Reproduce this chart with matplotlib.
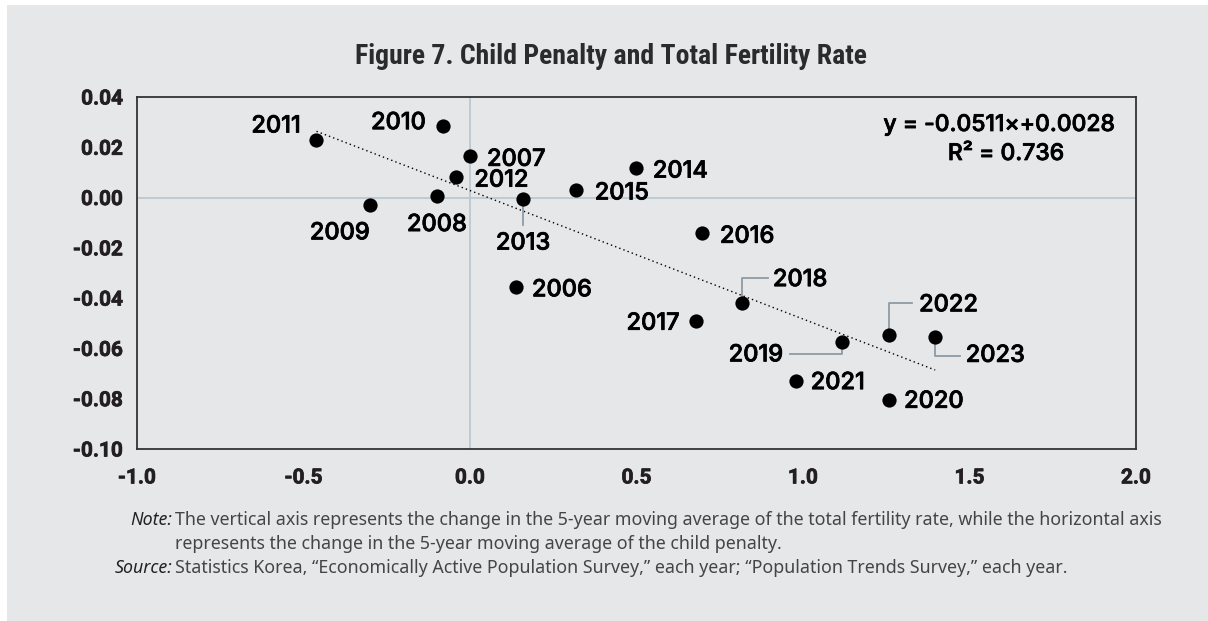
import matplotlib
matplotlib.use("Agg")
import matplotlib.pyplot as plt
from matplotlib import font_manager as fm
import matplotlib.patheffects as pe
import numpy as np

# ---------------- data ----------------
years = ["2006", "2007", "2008", "2009", "2010", "2011", "2012", "2013", "2014",
         "2015", "2016", "2017", "2018", "2019", "2020", "2021", "2022", "2023"]
child_penalty_change = [0.138, 0.000, -0.100, -0.300, -0.081, -0.461, -0.041, 0.159, 0.498,
                        0.319, 0.698, 0.678, 0.818, 1.118, 1.257, 0.978, 1.257, 1.397]
tfr_change = [-0.0355, 0.0166, 0.0006, -0.0029, 0.0286, 0.0229, 0.0080, -0.0004, 0.0116,
              0.0029, -0.0142, -0.0489, -0.0419, -0.0574, -0.0805, -0.0728, -0.0548, -0.0556]
fit_slope = -0.0511
fit_intercept = 0.0028
r_squared = 0.736
x_ticks = [-1.0, -0.5, 0.0, 0.5, 1.0, 1.5, 2.0]
y_ticks = [-0.10, -0.08, -0.06, -0.04, -0.02, 0.00, 0.02, 0.04]

title = "Figure 7. Child Penalty and Total Fertility Rate"
note_label = "Note:"
note_line1 = ("The vertical axis represents the change in the 5-year moving average of the total "
              "fertility rate, while the horizontal axis")
note_line2 = "represents the change in the 5-year moving average of the child penalty."
source_label = "Source:"
source_text = ("Statistics Korea, \u201cEconomically Active Population Survey,\u201d each year; "
               "\u201cPopulation Trends Survey,\u201d each year.")

# ---------------- layout (pixel offsets of labels) ----------------
# year: (dx, dy, ha, leader vertices as pixel offsets or None)
label_layout = {
    "2006": (16, -1, "left", None),
    "2007": (17, -1.5, "left", None),
    "2008": (0, -26.5, "center", None),
    "2009": (-30.5, -26, "center", None),
    "2010": (-17.5, 5, "right", None),
    "2011": (-16, 16, "right", None),
    "2012": (18, -0.7, "left", None),
    "2013": (0, -42.5, "center", [(0, 0), (0, -26.5)]),
    "2014": (17, -0.7, "left", None),
    "2015": (18.5, -0.7, "left", None),
    "2016": (17.5, -1, "left", None),
    "2017": (-16.5, -0.7, "right", None),
    "2018": (30.5, 25.3, "left", [(0, 0), (0, 25), (25.5, 25)]),
    "2019": (-59.5, -11, "right", [(0, 0), (0, -12), (-52.5, -12)]),
    "2020": (15.5, 0.7, "left", None),
    "2021": (15, 0, "left", None),
    "2022": (30.5, 32.5, "left", [(0, 0), (0, 32.5), (23.5, 32.5)]),
    "2023": (30.5, -16, "left", [(0, 0), (0, -18.5), (24.5, -18.5)]),
}
TEXT_DY = -2.5  # correction for descender space in centred text

W, H = 1208, 621
DPI = 100
BG = "#e6e7e9"
DARK = "#231f20"
LEADER = "#8d9ba6"
AXLINE = "#b4c3cd"

available = {f.name for f in fm.fontManager.ttflist}
def pick(*names):
    for n in names:
        if n in available:
            return n
    return "DejaVu Sans"

f_title = pick("Liberation Sans Narrow", "Roboto Condensed", "Open Sans", "Liberation Sans")
f_tick = pick("Roboto", "Liberation Sans")
f_lab = pick("Inter", "Roboto", "Lato")
f_note = pick("Noto Sans", "Open Sans", "DejaVu Sans")

heavy = [pe.withStroke(linewidth=0.55, foreground="black")]

fig = plt.figure(figsize=(W / DPI, H / DPI), dpi=DPI, facecolor="white")
# grey panel (white strip at top and left)
fig.patches.append(plt.Rectangle((7 / W, 0), 1 - 7 / W, 1 - 5 / H, transform=fig.transFigure,
                                 facecolor=BG, edgecolor="none", zorder=-10))

ax_l, ax_r, ax_t, ax_b = 137, 1136, 97, 449
ax = fig.add_axes([ax_l / W, 1 - ax_b / H, (ax_r - ax_l) / W, (ax_b - ax_t) / H])
ax.set_facecolor(BG)
ax.set_xlim(x_ticks[0], x_ticks[-1])
ax.set_ylim(y_ticks[0], y_ticks[-1])
ax.set_xticks(x_ticks)
ax.set_yticks(y_ticks)
ax.set_xticklabels([f"{v:.1f}" for v in x_ticks])
ax.set_yticklabels([f"{v:.2f}" for v in y_ticks])
ax.tick_params(axis="both", length=0, labelsize=15, labelcolor=DARK)
ax.tick_params(axis="x", pad=14)
ax.tick_params(axis="y", pad=10)
for lab in ax.get_xticklabels() + ax.get_yticklabels():
    lab.set_fontfamily(f_tick)
    lab.set_fontweight("bold")
    lab.set_path_effects([pe.withStroke(linewidth=0.5, foreground=DARK)])
for s in ax.spines.values():
    s.set_color("#333333")
    s.set_linewidth(1.3)

ax.axhline(0, color=AXLINE, lw=1.1, zorder=1)
ax.axvline(0, color=AXLINE, lw=1.1, zorder=1)

# trend line
xs = np.array([min(child_penalty_change), max(child_penalty_change)])
ax.plot(xs, fit_slope * xs + fit_intercept, color="black", lw=1.0,
        linestyle=(0, (1, 2.2)), zorder=2)

ax.scatter(child_penalty_change, tfr_change, s=105, color="black", zorder=4, linewidths=0)

fig.canvas.draw()
to_px = ax.transData.transform
to_data = ax.transData.inverted().transform

for yr, x, y in zip(years, child_penalty_change, tfr_change):
    dx, dy, ha, leader = label_layout[yr]
    if leader is not None:
        px, py = to_px((x, y))
        pts = to_data([(px + a, py + b) for a, b in leader])
        ax.plot(pts[:, 0], pts[:, 1], color=LEADER, lw=1.3, zorder=3)
    ax.annotate(yr, xy=(x, y), xytext=(dx, dy + TEXT_DY), textcoords="offset pixels",
                ha=ha, va="center", fontsize=17, fontfamily=f_lab, fontweight="medium",
                color="black", zorder=5, path_effects=heavy)

# equation
fig.text(999 / W, 1 - 125 / H, f"y = {fit_slope:.4f}\u00d7+{fit_intercept:.4f}",
         ha="center", va="center", fontsize=16.5, fontfamily=f_lab, fontweight="medium",
         color="black", path_effects=heavy)
fig.text(1006 / W, 1 - 154 / H, f"R\u00b2 = {r_squared:.3f}",
         ha="center", va="center", fontsize=16.5, fontfamily=f_lab, fontweight="medium",
         color="black", path_effects=heavy)

# title
fig.text(611 / W, 1 - 56 / H, title, ha="center", va="center", fontsize=20,
         fontfamily=f_title, fontweight="bold", color="#2b2b2b")

# notes
NOTE_C = "#454545"
NS = 12.8
fig.text(172 / W, 1 - 520 / H, note_label, ha="right", va="center", fontsize=NS,
         fontfamily=f_note, style="italic", color="#222222")
fig.text(175 / W, 1 - 520 / H, note_line1, ha="left", va="center", fontsize=NS,
         fontfamily=f_note, color=NOTE_C)
fig.text(175 / W, 1 - 544 / H, note_line2, ha="left", va="center", fontsize=NS,
         fontfamily=f_note, color=NOTE_C)
fig.text(172 / W, 1 - 568 / H, source_label, ha="right", va="center", fontsize=NS,
         fontfamily=f_note, style="italic", color="#222222")
fig.text(175 / W, 1 - 568 / H, source_text, ha="left", va="center", fontsize=NS,
         fontfamily=f_note, color=NOTE_C)

fig.savefig("out.png", dpi=DPI, facecolor="white")
